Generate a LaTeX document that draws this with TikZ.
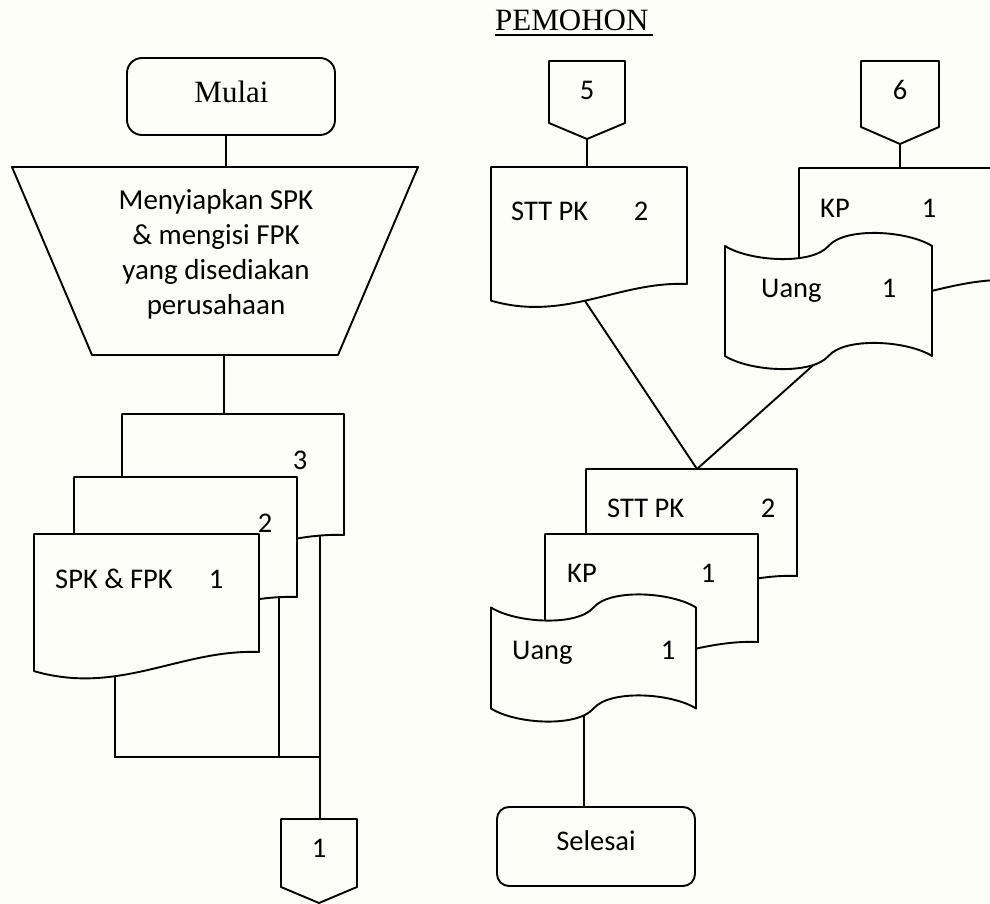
\documentclass[tikz,border=0pt]{standalone}
\usepackage{fontspec}
\setmainfont{Liberation Serif}
\newfontfamily\carl{Carlito}
\definecolor{paper}{RGB}{253,253,248}
\tikzset{
  x=1pt, y=-1pt,
  ln/.style={line width=1.9pt, draw=black},
  shp/.style={line width=1.9pt, draw=black, fill=paper, line join=round},
  term/.style={shp, rectangle, inner sep=0pt, outer sep=0pt},
  lbl/.style={font=\carl\fontsize{28.5}{34}\selectfont, inner sep=0pt},
  procl/.style={font=\carl\fontsize{29}{35}\selectfont, inner sep=0pt, anchor=base},
  serif/.style={font=\fontsize{31}{37}\selectfont, inner sep=0pt, anchor=base}
}
% document symbol: left x, right x, top y, bottom-right y
\newcommand\docshape[4]{%
  \pgfmathsetmacro\dw{#2-#1}%
  \path[shp] (#1,#3) -- (#2,#3) -- (#2,#4)
    .. controls ({#1+0.65*\dw},{#4-3}) and ({#1+0.38*\dw},{#4+0.195*\dw}) .. (#1,{#4+0.085*\dw}) -- cycle;}
% punched tape symbol: left x, right x, top y, height
\newcommand\tapeshape[4]{%
  \pgfmathsetmacro\tw{#2-#1}%
  \pgfmathsetmacro\tb{#3+#4}%
  \path[shp] (#1,#3)
    .. controls ({#1+0.12*\tw},{#3+15.6}) and ({#1+0.42*\tw},{#3+19.2}) .. ({#1+0.5*\tw},#3)
    .. controls ({#1+0.58*\tw},{#3-19.2}) and ({#1+0.88*\tw},{#3-15.6}) .. (#2,#3)
    -- (#2,\tb)
    .. controls ({#1+0.88*\tw},{\tb-15.6}) and ({#1+0.58*\tw},{\tb-19.2}) .. ({#1+0.5*\tw},\tb)
    .. controls ({#1+0.42*\tw},{\tb+19.2}) and ({#1+0.12*\tw},{\tb+15.6}) .. (#1,\tb) -- cycle;}
% off-page connector: left x, right x, top y, side bottom y, tip y
\newcommand\offpage[5]{%
  \path[shp] (#1,#3) -- (#2,#3) -- (#2,#4) -- ({(#1+#2)/2},#5) -- (#1,#4) -- cycle;}

\begin{document}
\begin{tikzpicture}
\useasboundingbox (0,0) rectangle (990,904);
\clip (0,0) rectangle (990,904);
\fill[paper] (0,0) rectangle (990,904);

% terminals
\node[term, rounded corners=15pt, minimum width=208pt, minimum height=77pt] (mulai) at (231,96.5) {};
\node[term, rounded corners=12pt, minimum width=198pt, minimum height=79pt] (selesai) at (596,846.5) {};

% attach points
\coordinate (trapT) at (226,167);
\coordinate (mulaiB) at (mulai.south -| trapT);
\coordinate (trapB) at (224,355);
\coordinate (d3T) at (224,414);
\coordinate (d1B) at (115,670);
\coordinate (d2B) at (279,590);
\coordinate (d3B) at (320,530);
\coordinate (joinL) at (115,757);
\coordinate (joinM) at (279,757);
\coordinate (joinR) at (320,757);
\coordinate (c1T) at (320,819);
\coordinate (c5B) at (587,139);
\coordinate (sttT) at (587,167);
\coordinate (c6B) at (900,144);
\coordinate (kpT) at (900,168);
\coordinate (sttB) at (583,298);
\coordinate (uangB) at (828,352);
\coordinate (merge) at (697,469);
\coordinate (uangLB) at (584,712);

% flow lines
\draw[ln] (mulaiB) -- (trapT);
\draw[ln] (trapB) -- (d3T);
\draw[ln] (d1B) -- (joinL) -- (joinR);
\draw[ln] (d2B) -- (joinM);
\draw[ln] (d3B) -- (c1T);
\draw[ln] (c5B) -- (sttT);
\draw[ln] (c6B) -- (kpT);
\draw[ln] (sttB) -- (merge);
\draw[ln] (uangB) -- (merge);
\draw[ln] (uangLB) -- (uangLB |- selesai.north);

% manual operation
\path[shp] (12,167) -- (418,167) -- (338,355) -- (92,355) -- cycle;

% documents, left stack
\docshape{122}{344}{414}{535}
\docshape{74}{297}{477}{597}
\docshape{34}{259}{534}{652}

% off-page connectors
\offpage{281}{357}{819}{887}{903}
\offpage{549}{625}{61}{123}{139}
\offpage{861}{939}{61}{127}{144}

% right side
\docshape{491}{687}{167}{284}
\docshape{799}{1012}{168}{280}
\tapeshape{725}{932}{246}{110}
\docshape{586}{797}{469}{576}
\docshape{545}{758}{534}{642}
\tapeshape{491}{696}{607.5}{101}

% texts
\node[serif] (tmulai) at (231.5,103) {Mulai};
\node[serif, anchor=base west] (tpemohon) at (495,31) {PEMOHON};
\draw[line width=1.5pt] (tpemohon.base west) ++(0,4) -- ++(158,0);

\node[procl] (tp1) at (216,209) {Menyiapkan SPK};
\node[procl] (tp2) at (216,244) {\& mengisi FPK};
\node[procl] (tp3) at (216,279) {yang disediakan};
\node[procl] (tp4) at (216,314) {perusahaan};

\node[lbl, anchor=base] (t3) at (300,469) {3};
\node[lbl, anchor=base] (t2) at (265,532) {2};
\node[lbl, anchor=base west] (tspk) at (55,588) {SPK \& FPK};
\node[lbl, anchor=base] (tspk1) at (216,588) {1};
\node[lbl, anchor=base] (tc1) at (319,857) {1};

\node[lbl, anchor=base] (tc5) at (587,100) {5};
\node[lbl, anchor=base] (tc6) at (900,100) {6};
\node[lbl, anchor=base west] (tstt) at (511,220) {STT PK};
\node[lbl, anchor=base] (tstt2) at (641,220) {2};
\node[lbl, anchor=base west] (tkp) at (820,218) {KP};
\node[lbl, anchor=base] (tkp1) at (929,218) {1};
\node[lbl, anchor=base west] (tuang) at (761,297) {Uang};
\node[lbl, anchor=base] (tuang1) at (889,297) {1};

\node[lbl, anchor=base west] (tsttL) at (607,517) {STT PK};
\node[lbl, anchor=base] (tsttL2) at (768,517) {2};
\node[lbl, anchor=base west] (tkpL) at (567,582) {KP};
\node[lbl, anchor=base] (tkpL1) at (708,582) {1};
\node[lbl, anchor=base west] (tuangL) at (512,659) {Uang};
\node[lbl, anchor=base] (tuangL1) at (668,659) {1};
\node[lbl, anchor=base] (tsel) at (596,850) {Selesai};
\end{tikzpicture}
\end{document}
